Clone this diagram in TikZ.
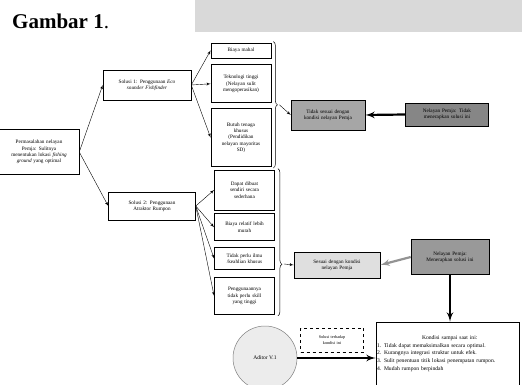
\documentclass[tikz,border=0pt]{standalone}
\usepackage{fontspec}
\setmainfont{Liberation Serif}
\usepackage{tikz}
\usetikzlibrary{shapes,arrows}
\usetikzlibrary{calc}
\usetikzlibrary{positioning}
\usetikzlibrary{decorations.pathreplacing}
\tikzstyle{block} = [draw, rectangle, inner sep=1pt, align=center,
    line width=0.5pt, font=\fontsize{5.2}{6.4}\selectfont]
\tikzstyle{subblock} = [block, line width=0.8pt, text width=58pt]
\tikzstyle{shade} = [block, line width=0.6pt, font=\fontsize{5.2}{6.2}\selectfont]
\tikzstyle{bigarrow} = [-latex', line width=2.2pt]
\tikzstyle{bracket} = [decorate, line width=0.5pt]

\begin{document}
\begin{tikzpicture}[x=1pt, y=-1pt, >=latex', node distance=5pt]
    \useasboundingbox (0,0) rectangle (522,385);
    \fill [gray!30] (195,0) rectangle (522,32);
    \node [anchor=base west, inner sep=0pt, font=\fontsize{21}{24}\selectfont] (judul) at (12,29)
        {\textbf{Gambar 1}.};

    % masalah dan solusi
    \node [block, text width=78pt, minimum height=45pt] (masalah) at (39,152)
        {Permasalahan nelayan\\Pemja: Sulitnya\\menentukan lokasi \textit{fishing}\\\textit{ground} yang optimal};
    \node [block, text width=86pt, minimum height=30pt] (solusi1) at (147,85)
        {Solusi 1: Penggunaan \textit{Eco}\\\textit{sounder Fishfinder}};
    \node [block, text width=85pt, minimum height=28pt] (solusi2) at (152,206)
        {Solusi 2: Penggunaan\\Atraktor Rumpon};

    \draw [->] (masalah.east) -- (solusi1.west);
    \draw [->] (masalah.east) -- (solusi2.west);

    % kekurangan solusi 1
    \node [subblock, minimum height=15pt] (biaya) at (241,50.5) {Biaya mahal};
    \node [subblock, minimum height=38pt, below=6pt of biaya] (teknologi)
        {Teknologi tinggi\\(Nelayan sulit\\mengoperasikan)};
    \node [subblock, minimum height=58pt, below=5pt of teknologi] (tenaga)
        {Butuh tenaga\\khusus\\(Pendidikan\\nelayan mayoritas\\SD)};

    \draw [->] (solusi1.east) -- (biaya.west);
    \draw [->] (solusi1.east) -- (teknologi.west);
    \draw [->] (solusi1.east) -- (tenaga.west);

    % kelebihan solusi 2
    \node [subblock, minimum height=40pt] (sendiri) at (244.5,190)
        {Dapat dibuat\\sendiri secara\\sederhana};
    \node [subblock, minimum height=27pt, below=3pt of sendiri] (murah)
        {Biaya relatif lebih\\murah};
    \node [subblock, minimum height=22pt, below=6pt of murah] (ilmu)
        {Tidak perlu ilmu\\/keahlian khusus};
    \node [subblock, minimum height=37pt, below=7pt of ilmu] (skill)
        {Penggunaannya\\tidak perlu skill\\yang tinggi};

    \draw [->] (solusi2.east) -- (sendiri.west);
    \draw [->] (solusi2.east) -- (murah.west);
    \draw [->] (solusi2.east) -- (ilmu.west);
    \draw [->] (solusi2.east) -- (skill.west);

    % kurung kurawal
    \draw [bracket, decoration={brace, amplitude=4pt}]
        ($(biaya.north east)+(2,-1)$) -- ($(tenaga.south east)+(2,1)$);
    \coordinate (ujung1) at ($(biaya.north east)!0.5!(tenaga.south east)+(8,0)$);
    \draw [bracket, decoration={brace, amplitude=4pt, aspect=0.65}]
        ($(sendiri.north east)+(3,-1)$) -- ($(skill.south east)+(3,1)$);
    \coordinate (ujung2) at ($(sendiri.north east)!0.65!(skill.south east)+(9,0)$);

    % hasil
    \node [shade, fill=gray!70, text width=72pt, minimum height=30pt] (tidaksesuai) at (328,115)
        {Tidak sesuai dengan\\kondisi nelayan Pemja};
    \node [shade, fill=gray!95, text width=81pt, minimum height=23pt] (nelayan1) at (447,114.5)
        {Nelayan Pemja: Tidak\\menerapkan solusi ini};
    \node [shade, fill=gray!25, text width=84pt, minimum height=26pt] (sesuai) at (337,265)
        {Sesuai dengan kondisi\\nelayan Pemja};
    \node [shade, fill=gray!80, text width=76pt, minimum height=35pt] (nelayan2) at (450,257)
        {Nelayan Pemja:\\Menerapkan solusi ini};

    \draw [->] (ujung1) -- (tidaksesuai.west);
    \draw [->] (ujung2) -- (sesuai.west);
    \draw [bigarrow] (nelayan1.west) -- (tidaksesuai.east);
    \draw [bigarrow, gray!85] (nelayan2.west) -- (sesuai.east);

    % kondisi saat ini
    \node [block, line width=0.7pt, align=left, text width=141pt, minimum height=63pt,
        font=\fontsize{5.6}{7.8}\selectfont] (kondisi) at (447.5,353.5)
        {\hspace*{45pt}Kondisi sampai saat ini:\\
         1. Tidak dapat memaksimalkan secara optimal.\\
         2. Kurangnya integrasi struktur untuk efek.\\
         3. Sulit penentuan titik lokasi penempatan rumpon.\\
         4. Mudah rumpon berpindah};
    \node [circle, draw=gray, fill=gray!15, line width=0.5pt, minimum size=64pt,
        font=\fontsize{5.5}{6.5}\selectfont] (aplikasi) at (265,358) {Aditor V.1};
    \node [block, dashed, line width=0.6pt, text width=61pt, minimum height=24pt,
        font=\fontsize{4.2}{5.2}\selectfont] (solusibaru) at (332,340)
        {Solusi terhadap\\kondisi ini};

    \draw [bigarrow] (nelayan2.south) -- (kondisi.north -| nelayan2.south);
    \draw [bigarrow] (aplikasi.east) -- (kondisi.west |- aplikasi.east);
\end{tikzpicture}
\end{document}
